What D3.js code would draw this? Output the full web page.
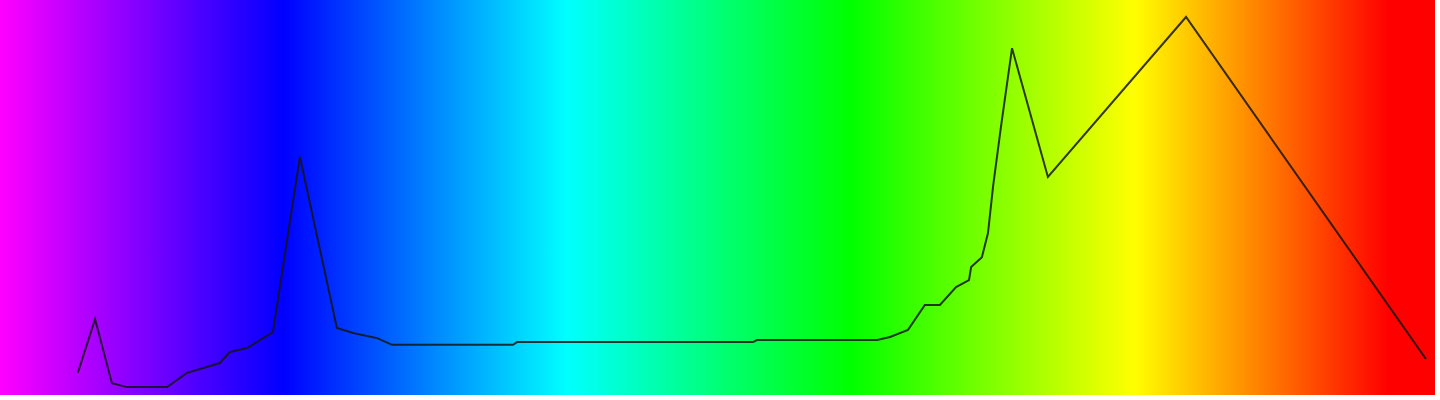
<!DOCTYPE html>
<html>
<head>
<meta charset="utf-8">
<script src="https://cdn.jsdelivr.net/npm/d3@7"></script>
<style>
  html, body { margin: 0; padding: 0; background: #ffffff; overflow: hidden; }
  svg { display: block; }
</style>
</head>
<body>
<script>
// Spectrum data: wavelength (nm) and relative intensity (%)
const wavelengths = [401.7, 406.5, 411.2, 415.4, 426.6, 432.1, 435.8, 441.3, 444.1, 448.9,
  452.5, 456.1, 463.6, 473.9, 478.4, 485.1, 489.3, 523.0, 524.1, 589.9,
  591.0, 624.5, 628.1, 633.1, 637.8, 642.0, 646.5, 650.1, 650.7, 653.7,
  655.4, 656.8, 659.0, 662.1, 672.1, 710.6, 777.5];
const intensities = [5.6, 19.2, 3.0, 2.0, 2.0, 5.6, 6.6, 8.1, 10.9, 11.9,
  13.9, 15.9, 60.3, 17.0, 15.7, 14.4, 12.7, 12.7, 13.4, 13.4,
  13.9, 13.9, 14.7, 16.5, 22.8, 22.8, 27.3, 29.1, 32.4, 34.9,
  41.0, 52.7, 67.8, 87.8, 55.2, 95.7, 9.1];

// Background spectrum colour stops (wavelength, colour)
const stopWavelengths = [380, 459, 538, 617, 696, 767, 780];
const stopColors = ["#ff00ff", "#0000ff", "#00ffff", "#00ff00", "#ffff00", "#ff0000", "#ff0000"];

const W = 1440, H = 400;
const plotW = 1435, plotH = 395;

const svg = d3.select("body").append("svg").attr("width", W).attr("height", H);

const x = d3.scaleLinear().domain([380, 780]).range([0, plotW]);
const y = d3.scaleLinear().domain([0, 100]).range([plotH, 0]);

const defs = svg.append("defs");
const grad = defs.append("linearGradient")
  .attr("id", "spectrum")
  .attr("gradientUnits", "userSpaceOnUse")
  .attr("x1", x(380)).attr("x2", x(780)).attr("y1", 0).attr("y2", 0);
grad.selectAll("stop")
  .data(stopWavelengths.map((w, i) => ({ w, c: stopColors[i] })))
  .join("stop")
  .attr("offset", d => (d.w - 380) / 400)
  .attr("stop-color", d => d.c);

svg.append("rect")
  .attr("x", x(380)).attr("y", y(100))
  .attr("width", x(780) - x(380)).attr("height", y(0) - y(100))
  .attr("fill", "url(#spectrum)");

const data = wavelengths.map((w, i) => [w, intensities[i]]);
const line = d3.line().x(d => x(d[0])).y(d => y(d[1]));

svg.append("path")
  .datum(data)
  .attr("d", line)
  .attr("fill", "none")
  .attr("stroke", "#151515")
  .attr("stroke-opacity", 0.85)
  .attr("stroke-width", 2)
  .attr("stroke-linejoin", "miter");
</script>
</body>
</html>
